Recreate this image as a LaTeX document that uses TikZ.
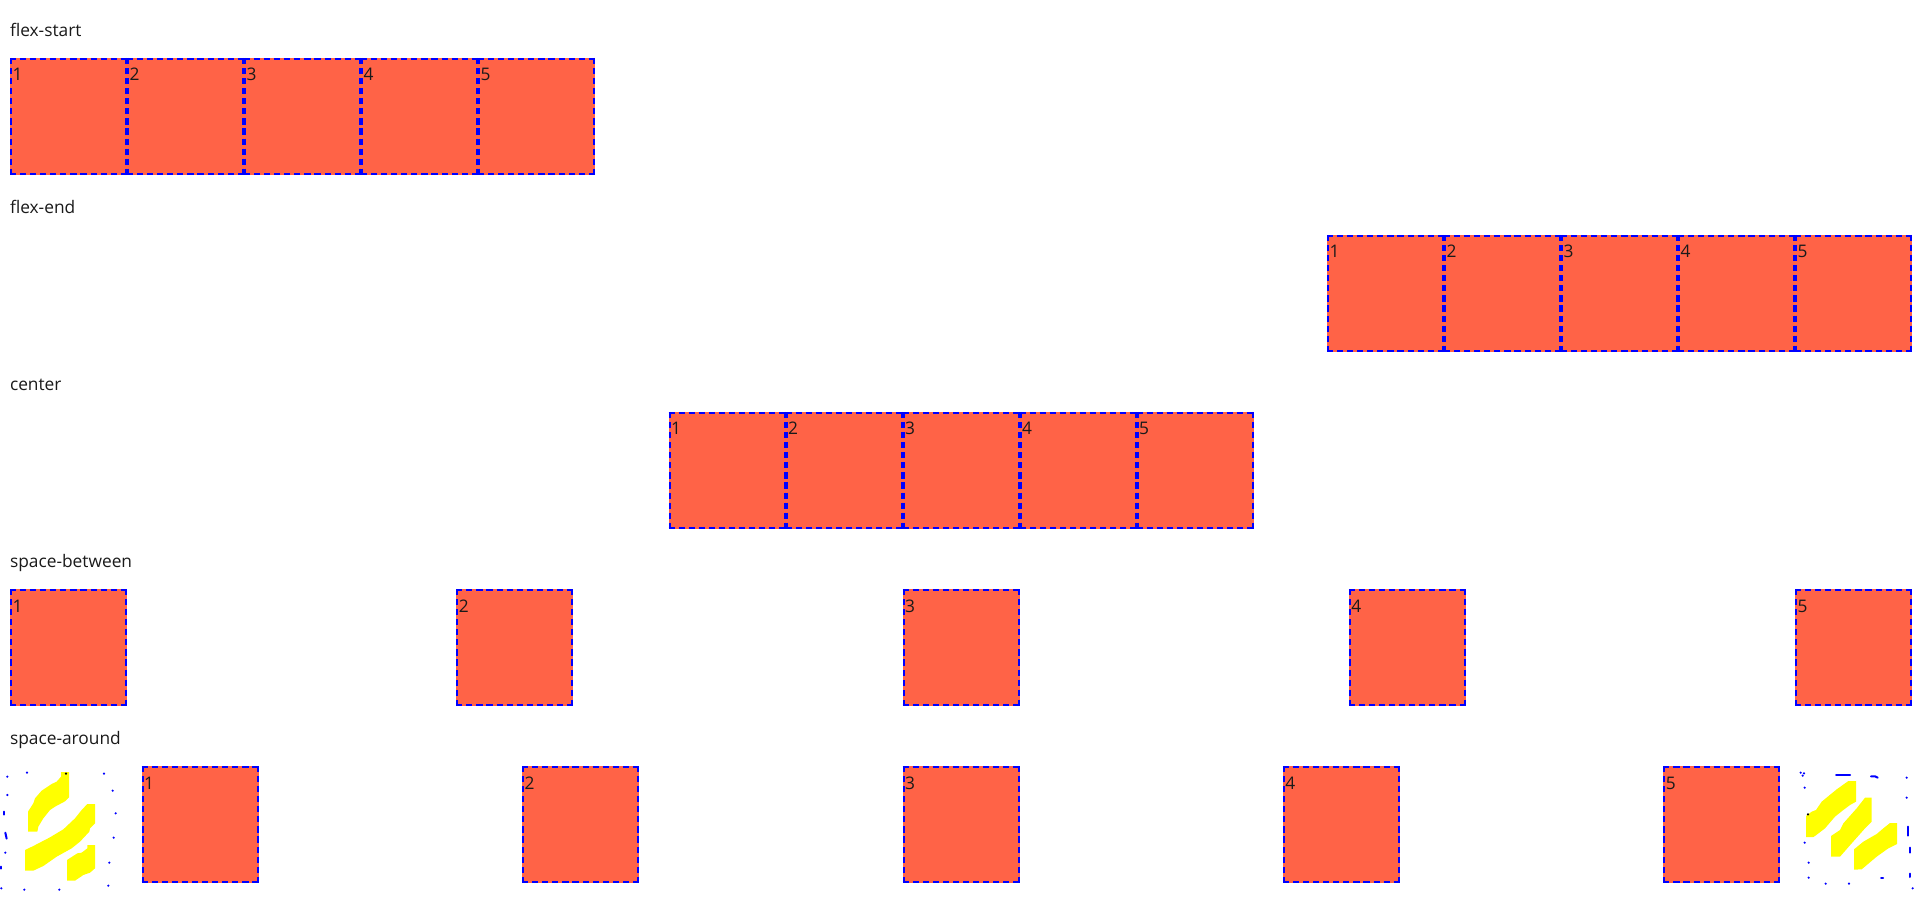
\documentclass[tikz,border=0pt]{standalone}
\usepackage{fontspec}
\setmainfont{Open Sans}
\definecolor{tomatofill}{HTML}{FF6347}
\definecolor{bdblue}{HTML}{0000FF}
\definecolor{glyphyellow}{HTML}{FFFF00}
\definecolor{txt}{HTML}{1A1A1A}
\tikzset{
  boxfill/.style={rectangle,fill=tomatofill,draw=none,minimum width=87.75pt,minimum height=87.75pt,inner sep=0pt,outer sep=0pt,anchor=north west},
  bdash/.style={draw=bdblue,line width=1.5pt,dash pattern=on 4.6pt off 2.95pt,line cap=butt},
  numlabel/.style={anchor=base west,inner sep=0pt,outer sep=0pt,text=txt,font=\fontsize{13}{15}\selectfont},
  rowlabel/.style={anchor=base west,inner sep=0pt,outer sep=0pt,text=txt,font=\fontsize{13}{15}\selectfont},
  glyph/.style={fill=glyphyellow,draw=none},
  dot/.style={fill=bdblue,draw=none},
  blackdot/.style={fill=black,draw=none},
  stroke/.style={draw=bdblue,line width=1.5pt,line cap=round},
}
\newcommand{\flexbox}[4]{%
  \node[boxfill] (#1) at (#2,#3) {};
  \node[numlabel] (#1t) at ([shift={(2.5,23)}]#1.north west) {#4};
  \draw[bdash] ([shift={(0,1)}]#1.north west) -- ([shift={(0,1)}]#1.north east);
  \draw[bdash] ([shift={(0,-1)}]#1.south west) -- ([shift={(0,-1)}]#1.south east);
  \draw[bdash] ([shift={(1,0)}]#1.north west) -- ([shift={(1,0)}]#1.south west);
  \draw[bdash] ([shift={(-1,0)}]#1.north east) -- ([shift={(-1,0)}]#1.south east);
}
\begin{document}
\begin{tikzpicture}[x=0.75pt,y=-0.75pt]
\useasboundingbox (0,0) rectangle (1920,919);
\node[rowlabel] (l1) at (10,36.7) {flex-start};
\node[rowlabel] (l2) at (10,213.7) {flex-end};
\node[rowlabel] (l3) at (10,390.7) {center};
\node[rowlabel] (l4) at (10,567.7) {space-between};
\node[rowlabel] (l5) at (10,744.7) {space-around};
\foreach \n in {1,...,5}{
  \pgfmathsetmacro{\xa}{10+117*(\n-1)}
  \flexbox{a\n}{\xa}{58}{\n}
  \pgfmathsetmacro{\xb}{1327+117*(\n-1)}
  \flexbox{b\n}{\xb}{235}{\n}
  \pgfmathsetmacro{\xc}{668.5+117*(\n-1)}
  \flexbox{c\n}{\xc}{412}{\n}
  \pgfmathsetmacro{\xd}{10+446.25*(\n-1)}
  \flexbox{d\n}{\xd}{589}{\n}
  \pgfmathsetmacro{\xe}{141.7+380.4*(\n-1)}
  \flexbox{e\n}{\xe}{766}{\n}
}
% left decoration
\begin{scope}[shift={(0,760)},x=0.25pt,y=-0.25pt]
\fill[glyph] (183,36)--(207,36)--(207,112)--(195,124)--(165,140)--(150,150)--(130,175)--(115,200)--(112,215)--(84,215)--(84,155)--(100,130)--(105,115)--(125,92)--(155,72)--(170,65)--(183,50)--cycle;
\fill[glyph] (262,132)--(285,132)--(285,190)--(270,205)--(268,215)--(240,245)--(215,265)--(170,290)--(130,318)--(100,332)--(75,332)--(75,270)--(100,258)--(150,232)--(190,208)--(225,175)--(245,150)--cycle;
\fill[glyph] (262,255)--(285,255)--(285,325)--(270,338)--(250,345)--(225,362)--(201,362)--(201,300)--(232,280)--(245,278)--(262,265)--cycle;
\foreach \p/\q in {22/50,81/38,312/41,338/92,347/160,341/233,328/308,325/377,178/389,73/389,4/385,16/278,22/105}
  \fill[dot] (\p,\q) circle[radius=3.6];
\fill[blackdot] (198,41) circle[radius=3.6];
\draw[stroke] (13,155)--(13,164);
\draw[stroke] (16,218)--(20,236);
\draw[stroke] (4,320)--(4,326);
\end{scope}
% right decoration
\begin{scope}[shift={(1780,760)},x=0.25pt,y=-0.25pt]
\fill[glyph] (205,63)--(228,63)--(228,125)--(210,135)--(190,150)--(165,170)--(135,205)--(105,228)--(100,231)--(78,231)--(78,168)--(95,155)--(108,150)--(125,125)--(170,88)--cycle;
\fill[glyph] (255,113)--(275,113)--(275,185)--(255,205)--(215,250)--(180,290)--(153,290)--(153,228)--(180,210)--(190,190)--(230,145)--cycle;
\fill[glyph] (330,189)--(351,189)--(351,252)--(325,265)--(290,290)--(245,328)--(222,329)--(222,268)--(250,245)--(290,222)--(310,205)--cycle;
\foreach \p/\q in {62/38,72/40,68/47,380/53,74/83,380/113,398/385,74/248,86/308,86/353,137/371,207/371}
  \fill[dot] (\p,\q) circle[radius=3.6];
\fill[blackdot] (84,163) circle[radius=3.6];
\draw[stroke] (168,46)--(210,46);
\draw[stroke] (273,49)--(285,49)--(293,53);
\draw[stroke] (383,200)--(383,227);
\draw[stroke] (389,263)--(389,278);
\draw[stroke] (389,341)--(389,351);
\draw[stroke] (303,355)--(309,355);
\end{scope}
\end{tikzpicture}
\end{document}
